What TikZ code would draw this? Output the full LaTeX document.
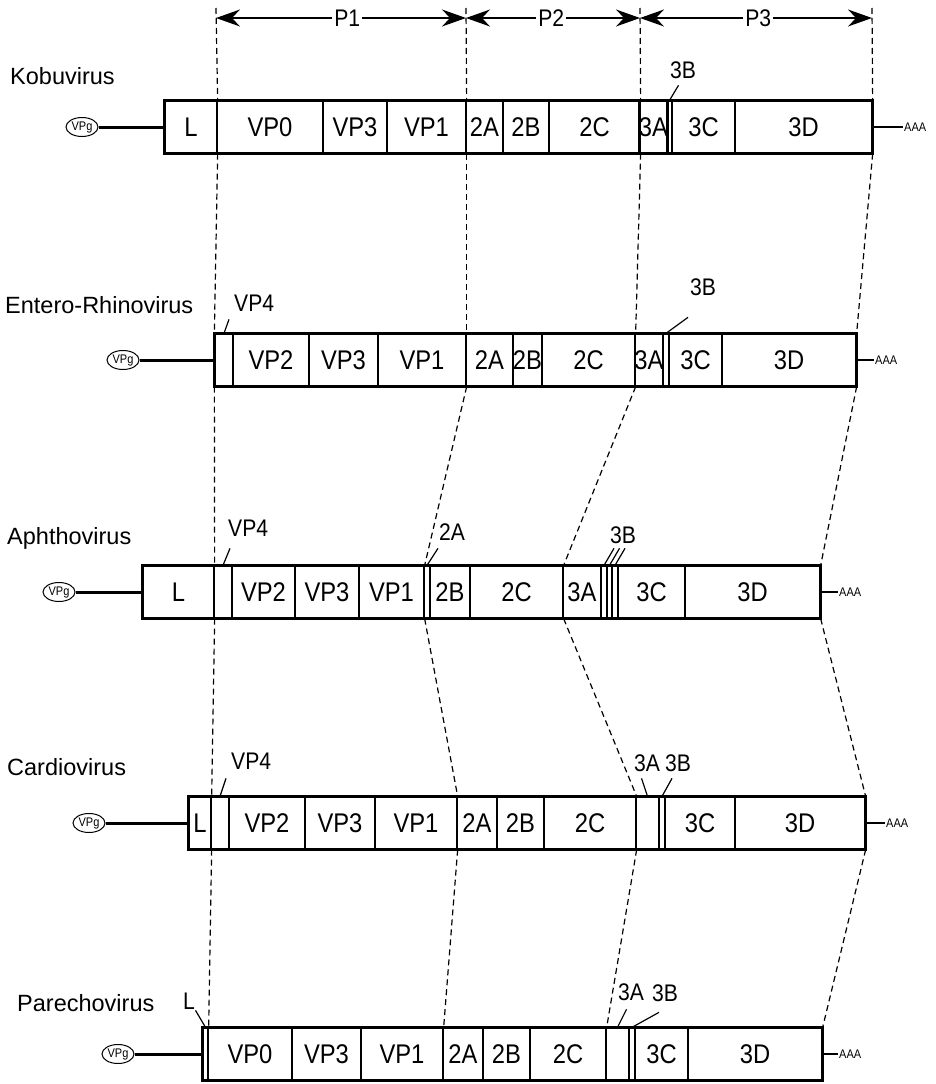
\documentclass[tikz,border=0pt]{standalone}
\usepackage{fontspec}
\setmainfont{Liberation Sans}
\newfontfamily\narrowfont[FakeStretch=0.88]{Liberation Sans}
\usetikzlibrary{arrows.meta,shapes.geometric}
\newcommand\cellbox[5]{\pgfmathsetmacro\cw{#3-#2}\pgfmathsetmacro\cx{(#2+#3)/2}\node[cell,minimum width=\cw pt] (#1) at (\cx,#4) {#5};}
\begin{document}
\begin{tikzpicture}[x=1pt,y=-1pt,
  cell/.style={draw, line width=1.3pt, minimum height=52pt, inner sep=0pt, font=\narrowfont\fontsize{27}{29}\selectfont},
  outer/.style={line width=3pt},
  lab/.style={font=\narrowfont\fontsize{24}{26}\selectfont, inner sep=0pt},
  vir/.style={font=\fontsize{23.5}{26}\selectfont, anchor=west, inner sep=0pt},
  vpg/.style={draw, ellipse, line width=1pt, minimum width=32pt, minimum height=19pt, inner sep=0pt, font=\narrowfont\fontsize{12.5}{13}\selectfont},
  aaa/.style={font=\narrowfont\fontsize{12.5}{13}\selectfont, anchor=west, inner sep=1pt},
  guide/.style={line width=1.2pt, dash pattern=on 6pt off 4pt},
  leader/.style={line width=1.2pt},
  tail/.style={line width=3pt},
  span/.style={line width=1.2pt, {Stealth[length=24pt,width=17pt,inset=8pt]}-{Stealth[length=24pt,width=17pt,inset=8pt]}}
]
\useasboundingbox (0,0) rectangle (936,1084);

% ---------- Row 1: Kobuvirus ----------
\node[vir] (kname) at (10,76) {Kobuvirus};
\foreach \n/\l/\r/\t in {L/165/217/L, VP0/217/323/VP0, VP3/323/387/VP3, VP1/387/466/VP1, 2A/466/503/2A, 2B/503/549/2B, 2C/549/640/2C, 3A/640/667/3A, 3B/667/672/{}, 3C/672/735/3C, 3D/735/872/3D}
  {\cellbox{k-\n}{\l}{\r}{127}{\t}}
\draw[outer] (k-L.north west) rectangle (k-3D.south east);
\node[vpg] (k-vpg) at (82,127) {VPg};
\draw[tail] (k-vpg) -- (k-L.west);
\node[aaa] (k-aaa) at (903,127) {AAA};
\draw[line width=2.2pt] (k-3D.east) -- (k-aaa.west);
\node[lab] (k-3Bl) at (683,70) {3B};
\draw[leader] (k-3B.north) -- ++(9,-15);

% ---------- Row 2: Entero-Rhinovirus ----------
\node[vir] (ename) at (5,305) {Entero-Rhinovirus};
\foreach \n/\l/\r/\t in {VP4/215/233/{}, VP2/233/309/VP2, VP3/309/378/VP3, VP1/378/466/VP1, 2A/466/513/2A, 2B/513/542/2B, 2C/542/635/2C, 3A/635/663/3A, 3B/663/669/{}, 3C/669/722/3C, 3D/722/856/3D}
  {\cellbox{e-\n}{\l}{\r}{360}{\t}}
\draw[outer] (e-VP4.north west) rectangle (e-3D.south east);
\node[vpg] (e-vpg) at (123,360) {VPg};
\draw[tail] (e-vpg) -- (e-VP4.west);
\node[aaa] (e-aaa) at (874,360) {AAA};
\draw[line width=2.2pt] (e-3D.east) -- (e-aaa.west);
\node[lab, anchor=west] (e-VP4l) at (234,303) {VP4};
\draw[leader] (e-VP4.north) -- ++(5,-14);
\node[lab] (e-3Bl) at (703,287) {3B};
\draw[leader] (e-3B.north) -- ++(22,-16);

% ---------- Row 3: Aphthovirus ----------
\node[vir] (aname) at (7,538) {Aphthovirus};
\foreach \n/\l/\r/\t in {L/143/214/L, VP4/214/232/{}, VP2/232/295/VP2, VP3/295/359/VP3, VP1/359/424/VP1, 2A/424/430/{}, 2B/430/470/2B, 2C/470/563/2C, 3A/563/601/3A, 3B1/601/607/{}, 3B2/607/612/{}, 3B3/612/618/{}, 3C/618/685/3C, 3D/685/820/3D}
  {\cellbox{a-\n}{\l}{\r}{592}{\t}}
\draw[outer] (a-L.north west) rectangle (a-3D.south east);
\node[vpg] (a-vpg) at (59,592) {VPg};
\draw[tail] (a-vpg) -- (a-L.west);
\node[aaa] (a-aaa) at (838,592) {AAA};
\draw[line width=2.2pt] (a-3D.east) -- (a-aaa.west);
\node[lab, anchor=west] (a-VP4l) at (228,528) {VP4};
\draw[leader] (a-VP4.north) -- ++(7,-17);
\node[lab] (a-2Al) at (452,532) {2A};
\draw[leader] (a-2A.north) -- ++(11,-17);
\node[lab] (a-3Bl) at (623,535) {3B};
\draw[leader] (a-3B1.north) -- ++(10,-17);
\draw[leader] (a-3B2.north) -- ++(10,-17);
\draw[leader] (a-3B3.north) -- ++(10,-17);

% ---------- Row 4: Cardiovirus ----------
\node[vir] (cname) at (7,767) {Cardiovirus};
\foreach \n/\l/\r/\t in {L/189/211/L, VP4/211/229/{}, VP2/229/305/VP2, VP3/305/375/VP3, VP1/375/457/VP1, 2A/457/497/2A, 2B/497/544/2B, 2C/544/636/2C, 3A/636/659/{}, 3B/659/665/{}, 3C/665/735/3C, 3D/735/865/3D}
  {\cellbox{c-\n}{\l}{\r}{823}{\t}}
\draw[outer] (c-L.north west) rectangle (c-3D.south east);
\node[vpg] (c-vpg) at (89,823) {VPg};
\draw[tail] (c-vpg) -- (c-L.west);
\node[aaa] (c-aaa) at (885,823) {AAA};
\draw[line width=2.2pt] (c-3D.east) -- (c-aaa.west);
\node[lab, anchor=west] (c-VP4l) at (231,761) {VP4};
\draw[leader] (c-VP4.north) -- ++(6,-18);
\node[lab] (c-3Al) at (647,763) {3A};
\draw[leader] (c-3A.north) -- ++(-6,-18);
\node[lab] (c-3Bl) at (678,763) {3B};
\draw[leader] (c-3B.north) -- ++(10,-18);

% ---------- Row 5: Parechovirus ----------
\node[vir] (pname) at (17,1003) {Parechovirus};
\foreach \n/\l/\r/\t in {L/203/208/{}, VP0/208/292/VP0, VP3/292/361/VP3, VP1/361/443/VP1, 2A/443/483/2A, 2B/483/530/2B, 2C/530/606/2C, 3A/606/629/{}, 3B/629/635/{}, 3C/635/688/3C, 3D/688/822/3D}
  {\cellbox{p-\n}{\l}{\r}{1054}{\t}}
\draw[outer] (p-L.north west) rectangle (p-3D.south east);
\node[vpg] (p-vpg) at (118,1054) {VPg};
\draw[tail] (p-vpg) -- (p-L.west);
\node[aaa] (p-aaa) at (838,1054) {AAA};
\draw[line width=2.2pt] (p-3D.east) -- (p-aaa.west);
\node[lab] (p-Ll) at (189,1001) {L};
\draw[leader] (p-L.north) -- ++(-10,-17);
\node[lab] (p-3Al) at (631,992) {3A};
\draw[leader] (p-3A.north) -- ++(9,-18);
\node[lab] (p-3Bl) at (665,993) {3B};
\draw[leader] (p-3B.north) -- ++(27,-15);

% ---------- Top spans ----------
\coordinate (t1) at (216,8);  \coordinate (t2) at (466,8);
\coordinate (t3) at (640,8);  \coordinate (t4) at (872,8);
\coordinate (s1) at (216,18); \coordinate (s2) at (466,18);
\coordinate (s3) at (640,18); \coordinate (s4) at (872,18);
\draw[span] (s1) -- node[pos=0.525, fill=white, inner sep=2pt, font=\narrowfont\fontsize{24}{26}\selectfont] (P1) {P1} (s2);
\draw[span] (s2) -- node[pos=0.49, fill=white, inner sep=2pt, font=\narrowfont\fontsize{24}{26}\selectfont] (P2) {P2} (s3);
\draw[span] (s3) -- node[pos=0.51, fill=white, inner sep=2pt, font=\narrowfont\fontsize{24}{26}\selectfont] (P3) {P3} (s4);

% ---------- Dashed guides ----------
\draw[guide] (t1) -- (k-L.north east);
\draw[guide] (k-L.south east) -- (e-VP4.north west);
\draw[guide] (e-VP4.south west) -- (a-L.north east);
\draw[guide] (a-L.south east) -- (c-L.north east);
\draw[guide] (c-L.south east) -- (p-L.north east);

\draw[guide] (t2) -- (k-VP1.north east);
\draw[guide] (k-VP1.south east) -- (e-VP1.north east);
\draw[guide] (e-VP1.south east) -- (a-VP1.north east);
\draw[guide] (a-VP1.south east) -- (c-VP1.north east);
\draw[guide] (c-VP1.south east) -- (p-VP1.north east);

\draw[guide] (t3) -- (k-2C.north east);
\draw[guide] (k-2C.south east) -- (e-2C.north east);
\draw[guide] (e-2C.south east) -- (a-2C.north east);
\draw[guide] (a-2C.south east) -- (c-2C.north east);
\draw[guide] (c-2C.south east) -- (p-2C.north east);

\draw[guide] (t4) -- (k-3D.north east);
\draw[guide] (k-3D.south east) -- (e-3D.north east);
\draw[guide] (e-3D.south east) -- (a-3D.north east);
\draw[guide] (a-3D.south east) -- (c-3D.north east);
\draw[guide] (c-3D.south east) -- (p-3D.north east);
\end{tikzpicture}
\end{document}
